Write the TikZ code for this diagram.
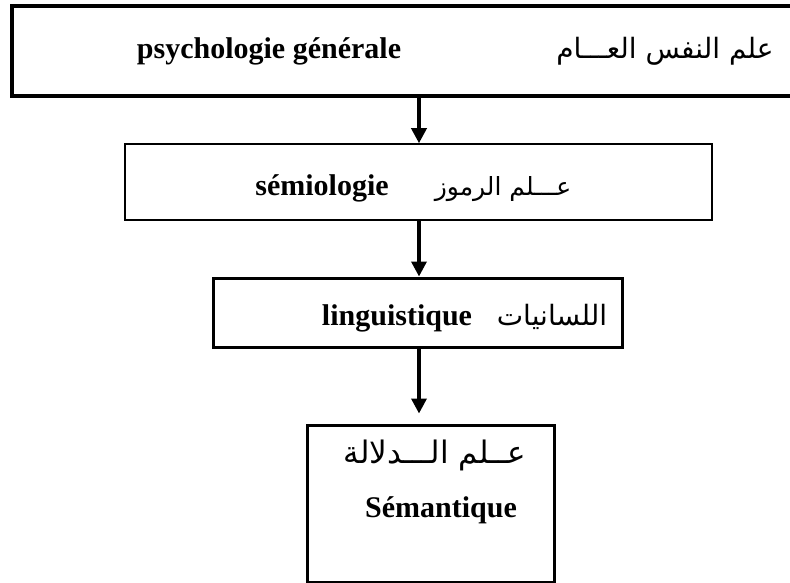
\documentclass[tikz,border=0pt]{standalone}
\usepackage{fontspec}
\setmainfont{Liberation Serif}
\newfontfamily\arabicfont[Script=Arabic]{DejaVu Sans}
\TeXXeTstate=1
\usetikzlibrary{arrows.meta}

\begin{document}
\begin{tikzpicture}[x=1pt,y=-1pt,
	box/.style={draw,line width=3pt,inner sep=0pt},
	lat/.style={anchor=base,inner sep=0pt,font=\fontsize{30}{36}\selectfont\bfseries},
	arab/.style={anchor=base,inner sep=0pt,font=\fontsize{28}{34}\selectfont\arabicfont},
	link/.style={line width=3.5pt,-{Triangle[length=15pt,width=15pt]}}]
		\useasboundingbox (0,0) rectangle (790,583);
		% the four boxes, the first runs past the right edge
		\node [box,line width=3.5pt,minimum width=788pt,minimum height=90pt] (psy) at (406,51) {};
		\node [box,line width=1.5pt,minimum width=587pt,minimum height=76pt] (semio) at (418.5,182) {};
		\node [box,minimum width=409pt,minimum height=69pt] (ling) at (417.5,312.5) {};
		\node [box,minimum width=247pt,minimum height=157pt] (sem) at (430.5,503.5) {};
		% texts
		\node [lat] (psyL) at (269,59) {psychologie générale};
		\node [arab] (psyA) at (665,59) {\beginR علم النفس العـــام\endR};
		\node [lat] (semioL) at (322,195) {sémiologie};
		\node [arab,font=\fontsize{25}{30}\selectfont\arabicfont] (semioA) at (503,195) {\beginR عـــلم الرموز\endR};
		\node [lat] (lingL) at (397,325) {linguistique};
		\node [arab] (lingA) at (552,325) {\beginR اللسانيات\endR};
		\node [arab,font=\fontsize{31}{36}\selectfont\arabicfont] (semA) at (435,463) {\beginR عــلم الـــدلالة\endR};
		\node [lat] (semL) at (441,517) {Sémantique};
		% arrows
		\coordinate (ax) at (419,0);
		\draw [link] (psy.south -| ax) -- (semio.north -| ax);
		\draw [link] (semio.south -| ax) -- (ling.north -| ax);
		\draw [link] (ling.south -| ax) -- ([yshift=10pt]sem.north -| ax);
\end{tikzpicture}
\end{document}
